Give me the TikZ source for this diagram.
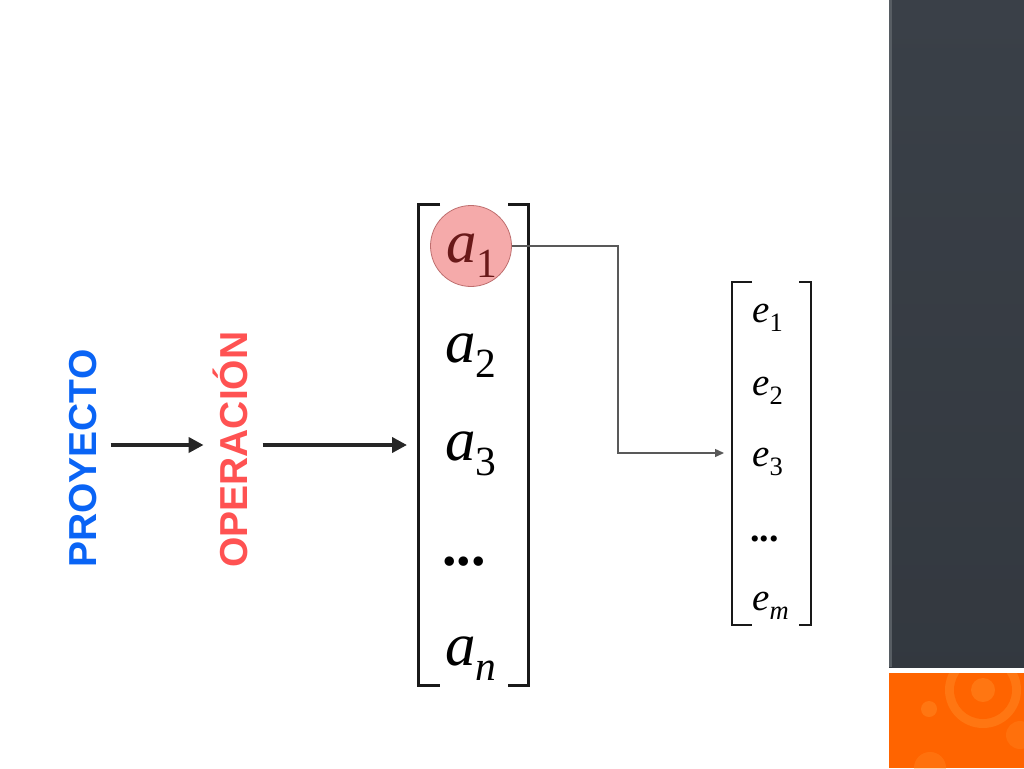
\documentclass[tikz,border=0pt]{standalone}
\usepackage{fontspec}
\usepackage{graphicx}
\usepackage{tikz}
\usetikzlibrary{arrows.meta}
\setmainfont{Liberation Serif}
\newfontfamily\labelfont{Liberation Sans}
\newcommand{\entry}[2]{\textit{#1}\raisebox{-.25em}{\scalebox{.68}{#2}}}
\definecolor{slate}{RGB}{58,64,72}
\definecolor{tangerine}{RGB}{255,100,0}
\definecolor{glow}{RGB}{255,140,40}

\begin{document}
\begin{tikzpicture}[x=1pt,y=-1pt,
  vlabel/.style={rotate=90,anchor=base west,inner sep=0pt,
    font=\labelfont\bfseries\fontsize{39}{39}\selectfont},
  bigentry/.style={anchor=base west,inner sep=0pt,font=\fontsize{61}{61}\selectfont},
  smallentry/.style={anchor=base west,inner sep=0pt,font=\fontsize{39}{39}\selectfont},
  bracket/.style={line width=3pt,black!90},
  thickarrow/.style={line width=4pt,black!85,-{Triangle[length=15pt,width=15pt]}},
  link/.style={line width=1.4pt,black!65,-{Triangle[length=9pt,width=8pt]}}]
  \useasboundingbox (0,0) rectangle (1024,768);
  % side panel
  \fill[top color=slate,bottom color=slate!88!black] (889,0) rectangle (1024,667);
  \fill[slate!85!white] (889,0) rectangle (892,667);
  \begin{scope}
    \clip (889,673) rectangle (1024,768);
    \fill[tangerine] (889,673) rectangle (1024,768);
    \fill[glow,opacity=.45] (983,690) circle (38);
    \fill[tangerine] (983,690) circle (29);
    \fill[glow,opacity=.45] (983,690) circle (12);
    \fill[glow,opacity=.45] (929,709) circle (8);
    \fill[glow,opacity=.35] (930,768) circle (16);
    \fill[glow,opacity=.3] (1020,735) circle (14);
  \end{scope}
  % labels
  \node[vlabel,text={rgb,255:red,10;green,100;blue,245}] (proyecto) at (96,568) {PROYECTO};
  \node[vlabel,text={rgb,255:red,255;green,82;blue,82}] (operacion) at (247,568) {OPERACIÓN};
  \coordinate (into) at (407,445);
  \draw[thickarrow] ([xshift=14pt]proyecto.south |- into) -- ([xshift=-44pt]operacion.south |- into);
  \draw[thickarrow] ([xshift=15pt]operacion.south |- into) -- (into);
  % big vector
  \draw[bracket] (440,204) -- (418,204) -- (418,685) -- (440,685);
  \draw[bracket] (508,204) -- (528,204) -- (528,685) -- (508,685);
  \node[circle,inner sep=0pt,minimum size=81pt,fill={rgb,255:red,245;green,170;blue,170},
    draw={rgb,255:red,190;green,110;blue,110},line width=.8pt] (hl) at (471,246) {};
  \node[bigentry,text={rgb,255:red,105;green,25;blue,25}] (a1) at (446,262) {\entry{a}{1}};
  \node[bigentry] (a2) at (445,362) {\entry{a}{2}};
  \node[bigentry] (a3) at (445,460) {\entry{a}{3}};
  \node[bigentry,font=\bfseries\fontsize{58}{58}\selectfont] (ad) at (442,565) {...};
  \node[bigentry] (an) at (445,665) {\entry{a}{\textit{n}}};
  % small vector
  \draw[bracket,line width=2.5pt] (752,282) -- (732,282) -- (732,625) -- (752,625);
  \draw[bracket,line width=2.5pt] (799,282) -- (811,282) -- (811,625) -- (799,625);
  \node[smallentry] (e1) at (752,322) {\entry{e}{1}};
  \node[smallentry] (e2) at (752,395) {\entry{e}{2}};
  \node[smallentry] (e3) at (752,466) {\entry{e}{3}};
  \node[smallentry,font=\bfseries\fontsize{38}{38}\selectfont] (ed) at (750,541) {...};
  \node[smallentry] (em) at (752,610) {\entry{e}{\textit{m}}};
  \coordinate (tip) at (724,453);
  \draw[link] (hl.east) -- ++(106,0) |- (tip);
\end{tikzpicture}
\end{document}
